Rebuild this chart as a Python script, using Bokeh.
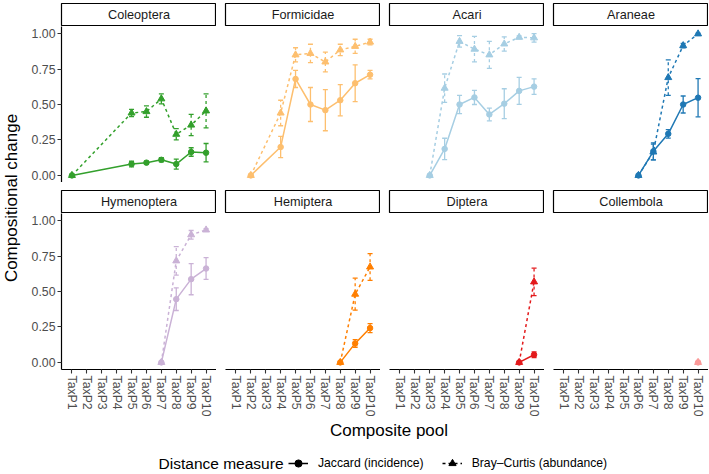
import math
from bokeh.plotting import figure
from bokeh.models import (Range1d, FactorRange, FixedTicker, ColumnDataSource, Whisker,
                          TeeHead, Legend, LegendItem, NumeralTickFormatter)
from bokeh.layouts import row, column
from bokeh.embed import file_html
from bokeh.resources import INLINE
from bokeh.core.properties import value

# ---------------- data ----------------
pools = ["TaxP1", "TaxP2", "TaxP3", "TaxP4", "TaxP5", "TaxP6", "TaxP7", "TaxP8", "TaxP9", "TaxP10"]
taxa = ["Coleoptera", "Formicidae", "Acari", "Araneae",
        "Hymenoptera", "Hemiptera", "Diptera", "Collembola"]
taxon_colors = ["#33a02c", "#fdbf6f", "#a6cee3", "#1f78b4",
                "#cab2d6", "#ff7f00", "#e31a1c", "#fb9a99"]
y_ticks = [0, 0.25, 0.5, 0.75, 1.0]
measures = ["Jaccard (incidence)", "Bray\u2013Curtis (abundance)"]

coleoptera_pools = ["TaxP1", "TaxP5", "TaxP6", "TaxP7", "TaxP8", "TaxP9", "TaxP10"]
coleoptera_jaccard = [0.0, 0.08, 0.09, 0.11, 0.08, 0.165, 0.16]
coleoptera_jaccard_err = [0.0, 0.02, 0.01, 0.015, 0.035, 0.03, 0.065]
coleoptera_bray = [0.0, 0.44, 0.45, 0.54, 0.29, 0.355, 0.455]
coleoptera_bray_err = [0.0, 0.025, 0.04, 0.035, 0.04, 0.075, 0.12]

formicidae_pools = ["TaxP2", "TaxP4", "TaxP5", "TaxP6", "TaxP7", "TaxP8", "TaxP9", "TaxP10"]
formicidae_jaccard = [0.0, 0.20, 0.68, 0.50, 0.46, 0.53, 0.65, 0.71]
formicidae_jaccard_err = [0.0, 0.075, 0.06, 0.12, 0.145, 0.11, 0.13, 0.03]
formicidae_bray = [0.0, 0.44, 0.85, 0.86, 0.80, 0.885, 0.91, 0.94]
formicidae_bray_err = [0.0, 0.09, 0.05, 0.065, 0.07, 0.04, 0.05, 0.02]

acari_pools = ["TaxP3", "TaxP4", "TaxP5", "TaxP6", "TaxP7", "TaxP8", "TaxP9", "TaxP10"]
acari_jaccard = [0.0, 0.187, 0.50, 0.55, 0.43, 0.506, 0.596, 0.626]
acari_jaccard_err = [0.0, 0.075, 0.065, 0.05, 0.045, 0.105, 0.095, 0.055]
acari_bray = [0.0, 0.615, 0.945, 0.89, 0.85, 0.927, 0.974, 0.97]
acari_bray_err = [0.0, 0.1, 0.04, 0.09, 0.095, 0.05, 0.01, 0.03]

araneae_pools = ["TaxP6", "TaxP7", "TaxP8", "TaxP9", "TaxP10"]
araneae_jaccard = [0.0, 0.17, 0.293, 0.50, 0.548]
araneae_jaccard_err = [0.0, 0.06, 0.03, 0.06, 0.135]
araneae_bray = [0.0, 0.165, 0.69, 0.915, 0.998]
araneae_bray_err = [0.0, 0.055, 0.125, 0.015, 0.005]

hymenoptera_pools = ["TaxP7", "TaxP8", "TaxP9", "TaxP10"]
hymenoptera_jaccard = [0.0, 0.446, 0.587, 0.662]
hymenoptera_jaccard_err = [0.0, 0.08, 0.11, 0.077]
hymenoptera_bray = [0.0, 0.716, 0.90, 0.934]
hymenoptera_bray_err = [0.0, 0.1, 0.03, 0.01]

hemiptera_pools = ["TaxP8", "TaxP9", "TaxP10"]
hemiptera_jaccard = [0.0, 0.134, 0.242]
hemiptera_jaccard_err = [0.0, 0.027, 0.032]
hemiptera_bray = [0.0, 0.481, 0.673]
hemiptera_bray_err = [0.0, 0.113, 0.094]

diptera_pools = ["TaxP9", "TaxP10"]
diptera_jaccard = [0.0, 0.054]
diptera_jaccard_err = [0.0, 0.02]
diptera_bray = [0.0, 0.568]
diptera_bray_err = [0.0, 0.097]

collembola_pools = ["TaxP10"]
collembola_jaccard = [0.0]
collembola_jaccard_err = [0.0]
collembola_bray = [0.0]
collembola_bray_err = [0.0]

panel_data = [
    (coleoptera_pools, coleoptera_jaccard, coleoptera_jaccard_err, coleoptera_bray, coleoptera_bray_err),
    (formicidae_pools, formicidae_jaccard, formicidae_jaccard_err, formicidae_bray, formicidae_bray_err),
    (acari_pools, acari_jaccard, acari_jaccard_err, acari_bray, acari_bray_err),
    (araneae_pools, araneae_jaccard, araneae_jaccard_err, araneae_bray, araneae_bray_err),
    (hymenoptera_pools, hymenoptera_jaccard, hymenoptera_jaccard_err, hymenoptera_bray, hymenoptera_bray_err),
    (hemiptera_pools, hemiptera_jaccard, hemiptera_jaccard_err, hemiptera_bray, hemiptera_bray_err),
    (diptera_pools, diptera_jaccard, diptera_jaccard_err, diptera_bray, diptera_bray_err),
    (collembola_pools, collembola_jaccard, collembola_jaccard_err, collembola_bray, collembola_bray_err),
]

# ---------------- layout constants ----------------
FONT = "Liberation Sans"
YLAB_W = 22
LEFT_AXIS = 39
GAP = 9
FRAME_W = 155
FRAME_H = 156
STRIP_H = 23
TOP_PAD = 3
ROW_GAP = 8
BOTTOM_AXIS = 52
BOTTOM_H = 52
RIGHT_PAD = 0
TOTAL_W = YLAB_W + LEFT_AXIS + 4 * FRAME_W + 3 * GAP + RIGHT_PAD

SOLID_DASH = "solid"
BRAY_DASH = "3 3"
CIRCLE_SIZE = 5.5
TRIANGLE_SIZE = 7


def base_fig(width, height, left, right, top, bottom, **kw):
    p = figure(width=width, height=height, output_backend="svg", toolbar_location=None,
               min_border_left=left, min_border_right=right,
               min_border_top=top, min_border_bottom=bottom, **kw)
    p.grid.visible = False
    p.outline_line_color = None
    p.background_fill_color = "white"
    p.border_fill_color = "white"
    return p


def style_axis(ax):
    ax.axis_line_color = "black"
    ax.axis_line_width = 1.2
    ax.major_tick_line_color = "#333333"
    ax.major_tick_line_width = 1.1
    ax.major_tick_out = 4
    ax.major_tick_in = 0
    ax.minor_tick_line_color = None
    ax.major_label_text_font = FONT
    ax.major_label_text_font_size = "12.3px"
    ax.major_label_text_color = "#4d4d4d"
    ax.major_label_standoff = 2


strips = []
panels = []
for i, taxon in enumerate(taxa):
    r, c = divmod(i, 4)
    left = LEFT_AXIS if c == 0 else GAP
    right = RIGHT_PAD if c == 3 else 0
    col = taxon_colors[i]

    # strip
    stop = TOP_PAD if r == 0 else ROW_GAP
    s = base_fig(left + FRAME_W + right, STRIP_H + stop, left, right, stop, 0,
                 x_range=Range1d(0, 1), y_range=Range1d(0, 1),
                 x_axis_location=None, y_axis_location=None)
    s.outline_line_color = "black"
    s.outline_line_width = 1.2
    s.text(x=[0.5], y=[0.5], text=[taxon], text_align="center", text_baseline="middle",
           text_font=value(FONT), text_font_size="12.7px", text_color="#1a1a1a")
    strips.append(s)

    # panel
    bottom = BOTTOM_AXIS if r == 1 else 0
    p = base_fig(left + FRAME_W + right, FRAME_H + bottom, left, right, 0, bottom,
                 x_range=FactorRange(factors=pools, range_padding=0.2,
                                     range_padding_units="absolute"),
                 y_range=Range1d(-0.05, 1.05),
                 x_axis_location="below" if r == 1 else None,
                 y_axis_location="left" if c == 0 else None)
    if c == 0:
        ya = p.yaxis[0]
        ya.ticker = FixedTicker(ticks=y_ticks)
        ya.formatter = NumeralTickFormatter(format="0.00")
        style_axis(ya)
    if r == 1:
        xa = p.xaxis[0]
        style_axis(xa)
        xa.major_label_orientation = -math.pi / 2

    tp, jac, jac_err, bc, bc_err = panel_data[i]
    for vals, errs, marker, msize, dash in ((jac, jac_err, "circle", CIRCLE_SIZE, SOLID_DASH),
                                             (bc, bc_err, "triangle", TRIANGLE_SIZE, BRAY_DASH)):
        src = ColumnDataSource(dict(x=tp, y=vals))
        ex = [x for x, e in zip(tp, errs) if e > 0]
        elo = [v - e for v, e in zip(vals, errs) if e > 0]
        ehi = [v + e for v, e in zip(vals, errs) if e > 0]
        esrc = ColumnDataSource(dict(x=ex, lo=elo, hi=ehi))
        if ex:
            w = Whisker(source=esrc, base="x", lower="lo", upper="hi", dimension="height",
                        line_color=col, line_width=1.3, line_dash=dash,
                        upper_head=TeeHead(size=5, line_color=col, line_width=1.3),
                        lower_head=TeeHead(size=5, line_color=col, line_width=1.3))
            w.level = "glyph"
            p.add_layout(w)
        if len(tp) > 1:
            p.line("x", "y", source=src, line_color=col, line_width=1.5, line_dash=dash)
        p.scatter("x", "y", source=src, marker=marker, size=msize,
                  fill_color=col, line_color=col)
    panels.append(p)

# y-axis title
grid_h = TOP_PAD + STRIP_H + FRAME_H + ROW_GAP + STRIP_H + FRAME_H + BOTTOM_AXIS
ylab = base_fig(YLAB_W, grid_h, 0, 0, TOP_PAD + STRIP_H, BOTTOM_AXIS,
                x_range=Range1d(0, 1), y_range=Range1d(0, 1),
                x_axis_location=None, y_axis_location=None)
ylab.text(x=[0.5], y=[0.5], text=["Compositional change"], angle=math.pi / 2,
          text_align="center", text_baseline="middle",
          text_font=value(FONT), text_font_size="17px", text_color="black")

# bottom: x title + legend
bf = base_fig(TOTAL_W, BOTTOM_H, 0, 0, 0, 0,
              x_range=Range1d(0, TOTAL_W), y_range=Range1d(0, BOTTOM_H),
              x_axis_location=None, y_axis_location=None)
panels_left = YLAB_W + LEFT_AXIS
panels_center = panels_left + (4 * FRAME_W + 3 * GAP) / 2
bf.text(x=[panels_center + 4], y=[BOTTOM_H - 9], text=["Composite pool"],
        text_align="center", text_baseline="middle",
        text_font=value(FONT), text_font_size="17px", text_color="black")

legend_x = 288
legend_y = 10
bf.text(x=[legend_x - 5], y=[legend_y], text=["Distance measure"],
        text_align="right", text_baseline="middle",
        text_font=value(FONT), text_font_size="15.5px", text_color="black")

nan = float("nan")
leg_src = ColumnDataSource(dict(x=[nan], y=[nan]))
rj_l = bf.line("x", "y", source=leg_src, line_color="black", line_width=1.5)
rj_p = bf.scatter("x", "y", source=leg_src, marker="circle", size=CIRCLE_SIZE, color="black")
rb_l = bf.line("x", "y", source=leg_src, line_color="black", line_width=1.5, line_dash=BRAY_DASH)
rb_p = bf.scatter("x", "y", source=leg_src, marker="triangle", size=TRIANGLE_SIZE, color="black")
legend = Legend(items=[LegendItem(label=measures[0], renderers=[rj_l, rj_p]),
                       LegendItem(label=measures[1], renderers=[rb_l, rb_p])],
                orientation="horizontal", location=(legend_x, legend_y - 9),
                padding=0, margin=0, spacing=18, glyph_width=20, glyph_height=18,
                label_standoff=10, label_text_font=FONT, label_text_font_size="12.2px",
                label_text_color="black", border_line_color=None, background_fill_alpha=0)
bf.add_layout(legend)

grid = column(row(*strips[:4]), row(*panels[:4]), row(*strips[4:]), row(*panels[4:]))
page = column(row(ylab, grid), bf)

open("out.html", "w").write(file_html(page, INLINE))
